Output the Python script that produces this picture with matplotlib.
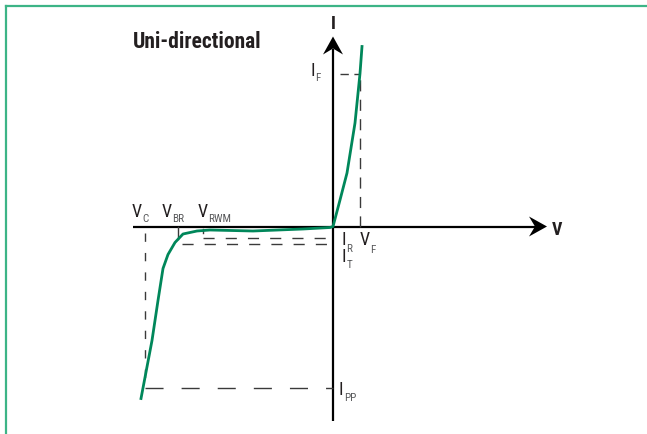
import matplotlib
matplotlib.use("Agg")
import matplotlib.pyplot as plt
from matplotlib.lines import Line2D
from matplotlib.patches import Polygon

# I-V characteristic of a uni-directional TVS diode (origin = axis crossing)
curve_v = [-192, -181, -175, -170, -165, -158, -150, -136, -123, -80, -30, -3, 0, 7, 14, 22, 27, 29]
curve_i = [-172, -114, -74, -42, -28, -16, -7.5, -4.5, -3.5, -4.5, -2.5, -1, 0, 26.5, 53.5, 103.5, 153, 180]

V_C = -188.5
V_BR = -154.7
V_RWM = -130
V_F = 27
I_F = 153
I_PP = -161.5
I_R = -11
I_T = -17

GREEN = "#00875a"
BORDER = "#3cb486"
DARK = "#231f20"
GREY = "#58595b"
FONT = ["Roboto Condensed", "DejaVu Sans Condensed", "Roboto", "DejaVu Sans"]

fig = plt.figure(figsize=(6.47, 4.34), dpi=100)
ax = fig.add_axes([0, 0, 1, 1])
ax.set_xlim(-333, 314)
ax.set_ylim(-207.5, 226.5)
ax.axis("off")

# frame lines (top and left only)
fig.add_artist(Line2D([6 / 647, 1], [1 - 5.5 / 434] * 2, color=BORDER, lw=1.6))
fig.add_artist(Line2D([6 / 647] * 2, [0, 1 - 5.5 / 434], color=BORDER, lw=1.6))

# axes
x_tip, y_tip = 214, 190
ax.plot([-200, x_tip - 12], [0, 0], color="black", lw=1.6, solid_capstyle="butt")
ax.plot([0, 0], [-194, y_tip - 12], color="black", lw=1.6, solid_capstyle="butt")
hl, hw, notch = 18, 10, 6
ax.add_patch(Polygon([(x_tip, 0), (x_tip - hl, hw), (x_tip - hl + notch, 0), (x_tip - hl, -hw)],
                     closed=True, color="black", lw=0))
ax.add_patch(Polygon([(0, y_tip), (hw, y_tip - hl), (0, y_tip - hl + notch), (-hw, y_tip - hl)],
                     closed=True, color="black", lw=0))

# dashed guides
dash = dict(color="#3a3a3a", lw=1.0)
ax.plot([V_C, V_C], [-6, I_PP], dashes=(6, 8), **dash)
ax.plot([V_C, 0], [I_PP, I_PP], dashes=(13, 13), **dash)
ax.plot([V_BR + 4, 0], [I_T, I_T], dashes=(8, 8), **dash)
ax.plot([V_BR + 25, 0], [I_R, I_R], dashes=(8, 8), **dash)
ax.plot([V_F, V_F], [0, I_F], dashes=(8, 6), **dash)
ax.plot([7, V_F], [I_F, I_F], dashes=(6, 4), **dash)

# solid ticks at V_BR and V_RWM
ax.plot([V_BR, V_BR], [0, -12], color="#3a3a3a", lw=1.0)
ax.plot([V_RWM, V_RWM], [-2, -6], color="#3a3a3a", lw=1.0)

# characteristic curve
ax.plot(curve_v, curve_i, color=GREEN, lw=2.0, solid_joinstyle="round")


def label(x, y, main, sub, drop=-2.5, size=13):
    t = ax.text(x, y, main, family=FONT, fontsize=size, color=DARK, va="baseline", ha="left")
    ax.annotate(sub, xy=(1, 0), xycoords=t, xytext=(0.3, drop), textcoords="offset points",
                family=FONT, fontsize=8, color=GREY, va="bottom", ha="left")


label(V_C - 13, 9.5, "V", "C")
label(V_BR - 17, 9.5, "V", "BR", drop=-2)
label(V_RWM - 5, 9.5, "V", "RWM")
label(8.7, -18.5, "I", "R", drop=-3.5)
label(8.7, -35.2, "I", "T", drop=-3)
label(V_F, -18.5, "V", "F", drop=-4.5)
label(-22.3, I_F - 3, "I", "F", drop=-2)
label(6, I_PP - 7, "I", "PP", drop=-3.2)

ax.text(0, 197.5, "I", family=FONT, fontsize=13, fontweight="bold", color=DARK,
        ha="center", va="baseline")
ax.text(218.7, -8.5, "V", family=FONT, fontsize=13, fontweight="bold", color=DARK,
        ha="left", va="baseline")
ax.text(-200, 178.2, "Uni-directional", family=FONT, fontsize=15.5, fontweight="bold",
        color=DARK, ha="left", va="baseline")

fig.savefig("out.png", dpi=100)
